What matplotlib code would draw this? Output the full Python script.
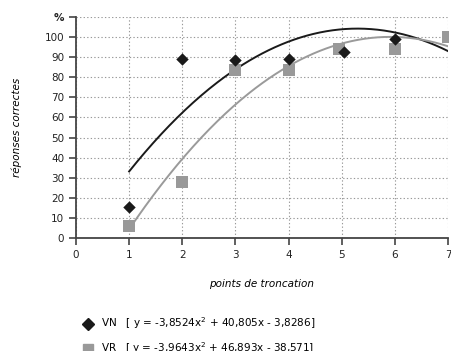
import numpy as np
import matplotlib.pyplot as plt
from matplotlib.lines import Line2D

# data
x_vn = [1, 2, 3, 4, 5.05, 6]
y_vn = [15.5, 89, 88.5, 89, 92.5, 99]
x_vr = [1, 2, 3, 4, 4.95, 6, 7]
y_vr = [6, 28, 83.5, 83.5, 94, 94, 100]

# trend line coefficients as given in the legend
coef_vn = [-3.8524, 40.805, -3.8286]
coef_vr = [-3.9643, 46.893, -38.571]

label_vn = "VN   [ y = -3,8524x$^2$ + 40,805x - 3,8286]"
label_vr = "VR   [ y = -3,9643x$^2$ + 46,893x - 38,571]"

plt.rcParams['font.family'] = ['DejaVu Sans']
plt.rcParams['font.size'] = 7.5

fig = plt.figure(figsize=(4.51, 3.51), dpi=100)
ax = fig.add_axes([76 / 451, 1 - 238 / 351, (448 - 76) / 451, (238 - 17) / 351])

xs = np.linspace(1, 7, 200)
ax.plot(xs, np.polyval(coef_vn, xs), color="#1a1a1a", lw=1.4, zorder=3)
ax.plot(xs, np.polyval(coef_vr, xs), color="#9a9a9a", lw=1.4, zorder=3)
ax.scatter(x_vr, y_vr, marker="s", s=75, color="#999999", zorder=4, linewidths=0)
ax.scatter(x_vn, y_vn, marker="D", s=40, color="#1a1a1a", zorder=5, linewidths=0)

ax.set_xlim(0, 7)
ax.set_ylim(0, 110)
ax.set_xticks(range(0, 8))
ax.set_yticks(range(0, 111, 10))
ylabels = [str(v) for v in range(0, 101, 10)] + ["%"]
ax.set_yticklabels(ylabels)
ax.get_yticklabels()[-1].set_fontweight("bold")

ax.grid(True, color="#999999", ls=(0, (1.2, 2)), lw=0.8)
ax.set_axisbelow(True)
for s in ["top", "right"]:
    ax.spines[s].set_visible(False)
for s in ["left", "bottom"]:
    ax.spines[s].set_color("#444444")
    ax.spines[s].set_linewidth(1.3)
ax.tick_params(color="#444444", length=5, width=1.2, labelcolor="#222222")

ax.set_xlabel("points de troncation", style="italic", labelpad=14)
ax.set_ylabel("réponses correctes", style="italic", labelpad=16)

handles = [Line2D([], [], marker="D", color="#1a1a1a", ls="", markersize=6),
           Line2D([], [], marker="s", color="#999999", ls="", markersize=7)]
fig.legend(handles, [label_vn, label_vr], loc="upper left",
           bbox_to_anchor=(68 / 451, 1 - 306 / 351), frameon=False,
           handletextpad=0.3, labelspacing=0.9, fontsize=7.5)

fig.savefig("out.png", dpi=100)
